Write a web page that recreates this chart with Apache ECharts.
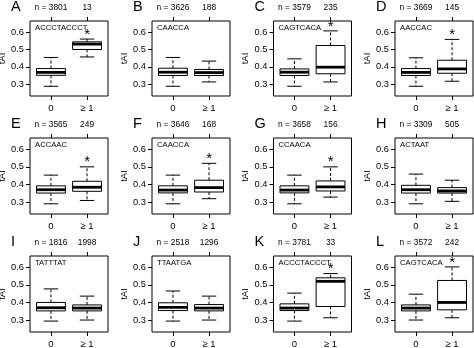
<!DOCTYPE html>
<html>
<head>
<meta charset="utf-8">
<script src="https://cdn.jsdelivr.net/npm/echarts@6/dist/echarts.min.js"></script>
<style>
  html, body { margin: 0; padding: 0; background: #fff; }
  #chart { width: 474px; height: 348px; }
</style>
</head>
<body>
<div id="chart"></div>
<script>
// Panel labels and motif names
const panelLetters = ['A', 'B', 'C', 'D', 'E', 'F', 'G', 'H', 'I', 'J', 'K', 'L'];
const motifs = ['ACCCTACCCT', 'CAACCA', 'CAGTCACA', 'AACCAC', 'ACCAAC', 'CAACCA',
                'CCAACA', 'ACTAAT', 'TATTTAT', 'TTAATGA', 'ACCCTACCCT', 'CAGTCACA'];

// Number of genes without (0) and with (>= 1) the motif
const countsNone = [3801, 3626, 3579, 3669, 3565, 3646, 3658, 3309, 1816, 2518, 3781, 3572];
const countsAny  = [13, 188, 235, 145, 249, 168, 156, 505, 1998, 1296, 33, 242];

// Group tick labels and y tick values
const groupLabels = ['0', '\u2265 1'];
const yTicks = [0.3, 0.4, 0.5, 0.6];

// Box statistics per panel: [lower whisker, Q1, median, Q3, upper whisker]
const statsNone = [
  [0.288, 0.351, 0.368, 0.390, 0.454],
  [0.288, 0.350, 0.369, 0.392, 0.454],
  [0.288, 0.350, 0.369, 0.388, 0.446],
  [0.288, 0.350, 0.368, 0.390, 0.452],
  [0.290, 0.351, 0.370, 0.392, 0.453],
  [0.290, 0.352, 0.368, 0.392, 0.453],
  [0.290, 0.352, 0.368, 0.392, 0.453],
  [0.290, 0.351, 0.370, 0.395, 0.459],
  [0.294, 0.352, 0.370, 0.400, 0.477],
  [0.294, 0.354, 0.372, 0.398, 0.465],
  [0.294, 0.354, 0.368, 0.392, 0.453],
  [0.300, 0.352, 0.368, 0.386, 0.447]
];
const statsAny = [
  [0.457, 0.500, 0.531, 0.544, 0.560],
  [0.313, 0.350, 0.367, 0.385, 0.433],
  [0.313, 0.360, 0.398, 0.523, 0.607],
  [0.317, 0.363, 0.388, 0.438, 0.558],
  [0.309, 0.361, 0.384, 0.418, 0.500],
  [0.319, 0.357, 0.382, 0.424, 0.520],
  [0.328, 0.363, 0.386, 0.420, 0.500],
  [0.304, 0.351, 0.363, 0.382, 0.424],
  [0.300, 0.352, 0.368, 0.386, 0.436],
  [0.300, 0.352, 0.368, 0.388, 0.436],
  [0.313, 0.377, 0.520, 0.540, 0.564],
  [0.313, 0.358, 0.400, 0.525, 0.602]
];

// Panels where the motif-containing group differs significantly
const significant = [true, false, true, true, true, true, true, false, false, false, true, true];

const FONT = '"Liberation Sans", Arial, Helvetica, sans-serif';
const colLeft = [30, 152, 273.5, 395];
const rowTop = [21, 138, 256];
const rowHeight = [75, 76, 76];
const frameWidth = 78;
const X_MIN = 0.42, X_MAX = 2.58;
const Y_MIN = 0.232, Y_MAX = 0.664;

function renderBox(params, api) {
  const x = api.value(0);
  const lo = api.value(1), q1 = api.value(2), med = api.value(3), q3 = api.value(4), hi = api.value(5);
  const sig = api.value(6);
  const c = api.coord([x, med]);
  const cx = c[0];
  const bl = api.coord([x - 0.4, q1])[0];
  const br = api.coord([x + 0.4, q1])[0];
  const cl = api.coord([x - 0.2, lo])[0];
  const cr = api.coord([x + 0.2, lo])[0];
  const yLo = api.coord([x, lo])[1];
  const yQ1 = api.coord([x, q1])[1];
  const yMed = c[1];
  const yQ3 = api.coord([x, q3])[1];
  const yHi = api.coord([x, hi])[1];
  const solid = { stroke: '#000', lineWidth: 1, fill: null };
  const dashed = { stroke: '#000', lineWidth: 1, lineDash: [3, 2], fill: null };
  const children = [
    { type: 'line', shape: { x1: cx, y1: yQ3, x2: cx, y2: yHi }, style: dashed },
    { type: 'line', shape: { x1: cx, y1: yQ1, x2: cx, y2: yLo }, style: dashed },
    { type: 'line', shape: { x1: cl, y1: yHi, x2: cr, y2: yHi }, style: solid },
    { type: 'line', shape: { x1: cl, y1: yLo, x2: cr, y2: yLo }, style: solid },
    { type: 'rect', shape: { x: bl, y: yQ3, width: br - bl, height: yQ1 - yQ3 },
      style: { fill: '#fff', stroke: '#000', lineWidth: 1 } },
    { type: 'line', shape: { x1: bl, y1: yMed, x2: br, y2: yMed },
      style: { stroke: '#000', lineWidth: 2.8 } }
  ];
  if (sig) {
    children.push({
      type: 'text',
      style: { text: '*', x: cx, y: yHi - 4.5, align: 'center', verticalAlign: 'middle',
               fontSize: 15, fontFamily: FONT, fill: '#000' }
    });
  }
  return { type: 'group', children };
}

const grids = [], xAxes = [], yAxes = [], series = [], titles = [];
for (let i = 0; i < 12; i++) {
  const r = Math.floor(i / 4), c = i % 4;
  const left = colLeft[c], top = rowTop[r];
  grids.push({
    left: left, top: top, width: frameWidth, height: rowHeight[r],
    show: true, borderColor: '#000', borderWidth: 1, backgroundColor: 'transparent',
    containLabel: false, outerBoundsMode: 'none'
  });
  const nLabels = ['n = ' + countsNone[i], String(countsAny[i])];
  xAxes.push({
    gridIndex: i, type: 'value', position: 'bottom', min: X_MIN, max: X_MAX,
    axisLine: { show: false }, splitLine: { show: false },
    axisTick: { show: true, customValues: [1, 2], length: 4, lineStyle: { color: '#000', width: 1 } },
    axisLabel: { show: true, customValues: [1, 2], formatter: v => groupLabels[Math.round(v) - 1],
                 margin: 7, fontSize: 9.5, fontFamily: FONT, color: '#000' }
  });
  xAxes.push({
    gridIndex: i, type: 'value', position: 'top', min: X_MIN, max: X_MAX,
    axisLine: { show: false }, splitLine: { show: false },
    axisTick: { show: true, customValues: [1, 2], length: 4, lineStyle: { color: '#000', width: 1 } },
    axisLabel: { show: true, customValues: [1, 2], formatter: v => nLabels[Math.round(v) - 1],
                 margin: 9, fontSize: 8.4, fontFamily: FONT, color: '#000' }
  });
  yAxes.push({
    gridIndex: i, type: 'value', min: Y_MIN, max: Y_MAX,
    axisLine: { show: false }, splitLine: { show: false },
    axisTick: { show: true, customValues: yTicks, length: 4, lineStyle: { color: '#000', width: 1 } },
    axisLabel: { show: true, customValues: yTicks, formatter: v => v.toFixed(1),
                 margin: 6, fontSize: 9.3, fontFamily: FONT, color: '#000' },
    name: 'tAI', nameLocation: 'middle', nameGap: 23,
    nameTextStyle: { fontSize: 9.5, fontFamily: FONT, color: '#000' }
  });
  series.push({
    type: 'custom', xAxisIndex: 2 * i, yAxisIndex: i, clip: false,
    encode: { x: 0, y: [1, 2, 3, 4, 5] },
    data: [
      [1].concat(statsNone[i], [0]),
      [2].concat(statsAny[i], [significant[i] ? 1 : 0])
    ],
    renderItem: renderBox
  });
  titles.push({
    text: panelLetters[i], left: left - 19, top: top - 22, padding: 0,
    textStyle: { fontSize: 14.5, fontWeight: 'normal', fontFamily: FONT, color: '#000' }
  });
  titles.push({
    text: motifs[i], left: left + 5, top: top + 3, padding: 0,
    textStyle: { fontSize: 7.7, fontWeight: 'normal', fontFamily: FONT, color: '#000' }
  });
}

const chart = echarts.init(document.getElementById('chart'), null, { renderer: 'canvas' });
chart.setOption({
  animation: false,
  backgroundColor: '#fff',
  title: titles,
  grid: grids,
  xAxis: xAxes,
  yAxis: yAxes,
  series: series
});
</script>
</body>
</html>
